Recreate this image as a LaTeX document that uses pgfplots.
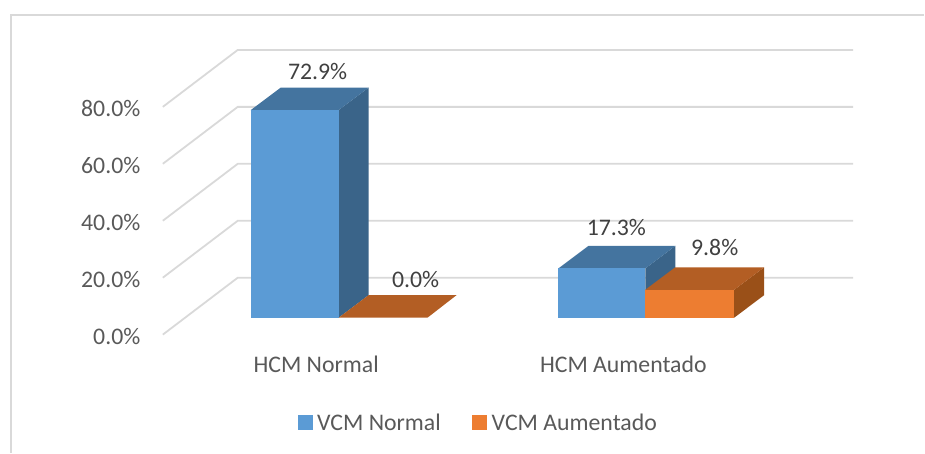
\documentclass[border=0pt]{standalone}
\usepackage{fontspec}
\setmainfont{Carlito}
\usepackage{pgfplots}
\pgfplotsset{compat=1.18}
\definecolor{gridc}{HTML}{D9D9D9}
\definecolor{blueF}{HTML}{5B9BD5}
\definecolor{blueT}{HTML}{44749F}
\definecolor{blueS}{HTML}{3A6489}
\definecolor{orF}{HTML}{ED7D31}
\definecolor{orT}{HTML}{B35E24}
\definecolor{orS}{HTML}{9A5018}
\definecolor{axt}{HTML}{595959}
\definecolor{dat}{HTML}{404040}
\pgfplotsset{
  gl/.style={draw=gridc,line width=1.8pt,forget plot},
  face/.style={fill=#1,draw=none,forget plot},
}
\begin{document}
\begin{tikzpicture}
\begin{axis}[
  scale only axis, width=691pt, height=285pt,
  xmin=163, xmax=854, ymin=-5.96, ymax=94.04,
  clip=false,
  axis line style={draw=none},
  major tick length=0pt,
  xtick={316.5,624}, xticklabels={HCM Normal,HCM Aumentado},
  ytick={-5.96,14.04,34.04,54.04,74.04},
  yticklabels={0.0\%,20.0\%,40.0\%,60.0\%,80.0\%},
  tick label style={font=\fontsize{23.8}{28}\selectfont,text=axt},
  yticklabel style={anchor=east,xshift=-19pt,yshift=-2pt},
  xticklabel style={anchor=center,yshift=-30pt},
  legend style={draw=none,fill=none,at={(axis cs:479,-36.9)},anchor=center,
    legend columns=2,font=\fontsize{23.8}{28}\selectfont,text=axt,
    /tikz/column 1/.style={column sep=3pt},
    /tikz/column 2/.style={column sep=30pt},
    /tikz/column 3/.style={column sep=3pt},
    inner sep=0pt,outer sep=0pt},
  legend cell align=left,
]
% picture bounds and chart frame
\addplot[draw=none,forget plot] coordinates {(0,-47.37)(925,111.58)};
\addplot[draw=gridc,line width=2pt,forget plot] coordinates {(11,-47.37)(11,106.3)(925,106.3)};
% walls: back lines and side diagonals
\addplot[gl] coordinates {(163,-5.96)(238,14.04)(854,14.04)};
\addplot[gl] coordinates {(163,14.04)(238,34.04)(854,34.04)};
\addplot[gl] coordinates {(163,34.04)(238,54.04)(854,54.04)};
\addplot[gl] coordinates {(163,54.04)(238,74.04)(854,74.04)};
\addplot[gl] coordinates {(163,74.04)(238,94.04)(854,94.04)};
% HCM Normal, VCM Normal = 72.9
\addplot[face=blueS] coordinates {(339,72.9)(369,80.8)(369,7.9)(339,0)} --cycle;
\addplot[face=blueT] coordinates {(251,72.9)(339,72.9)(369,80.8)(281,80.8)} --cycle;
\addplot[face=blueF] coordinates {(251,0)(339,0)(339,72.9)(251,72.9)} --cycle;
% HCM Normal, VCM Aumentado = 0.0
\addplot[face=orT] coordinates {(339,0)(428,0)(457,7.9)(369,7.9)} --cycle;
% HCM Aumentado, VCM Normal = 17.3
\addplot[face=blueS] coordinates {(646,17.3)(676,25.2)(676,7.9)(646,0)} --cycle;
\addplot[face=blueT] coordinates {(559,17.3)(646,17.3)(676,25.2)(589,25.2)} --cycle;
\addplot[face=blueF] coordinates {(559,0)(646,0)(646,17.3)(559,17.3)} --cycle;
% HCM Aumentado, VCM Aumentado = 9.8
\addplot[face=orS] coordinates {(735,9.8)(765,17.7)(765,7.9)(735,0)} --cycle;
\addplot[face=orT] coordinates {(646,9.8)(735,9.8)(765,17.7)(676,17.7)} --cycle;
\addplot[face=orF] coordinates {(646,0)(735,0)(735,9.8)(646,9.8)} --cycle;
% legend
\addlegendimage{only marks,mark=square*,mark size=7pt,mark options={draw=blueF,fill=blueF,line width=0pt}}\addlegendentry{VCM Normal}
\addlegendimage{only marks,mark=square*,mark size=7pt,mark options={draw=orF,fill=orF,line width=0pt}}\addlegendentry{VCM Aumentado}
% data labels
\begin{scope}[every node/.style={font=\fontsize{23.8}{28}\selectfont,text=dat,inner sep=0pt}]
\node at (axis cs:318,86.6) {72.9\%};
\node at (axis cs:416,13.3) {0.0\%};
\node at (axis cs:617,31.5) {17.3\%};
\node at (axis cs:715.5,24.5) {9.8\%};
\end{scope}
\end{axis}
\end{tikzpicture}
\end{document}
